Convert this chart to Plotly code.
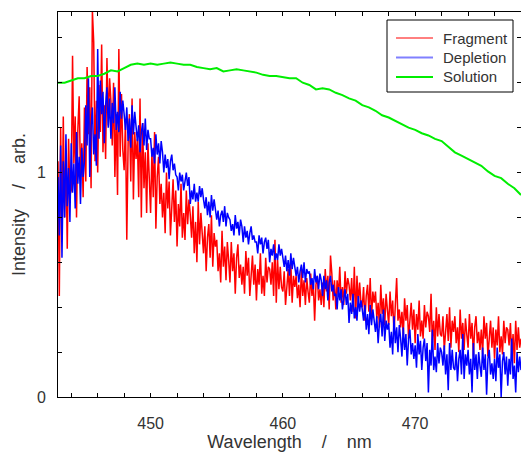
import plotly.graph_objects as go

# Wavelength grid (nm), 0.1 nm sampling for the two noisy spectra
wl_start = 443.0
wl_step = 0.1
n_pts = 351
wavelength = [round(wl_start + wl_step * i, 1) for i in range(n_pts)]

# Fragment spectrum (red), read per 0.1 nm
fragment = [
    1.05, 0.45, 1.20, 0.70, 1.25, 0.80, 1.10, 0.66, 1.15, 0.90,   # 443
    0.92, 1.52, 1.04, 1.25, 0.80, 1.19, 1.34, 0.98, 1.13, 0.89,   # 444
    1.29, 0.96, 1.47, 1.17, 1.38, 0.93, 1.72, 1.58, 1.05, 1.32,   # 445
    1.00, 1.39, 1.18, 1.57, 1.09, 1.30, 1.06, 1.51, 1.21, 1.42,   # 446
    1.32, 1.12, 1.40, 0.98, 1.26, 0.90, 1.55, 1.07, 1.35, 1.10,   # 447
    1.01, 1.23, 0.70, 1.13, 1.26, 0.96, 1.33, 0.88, 1.18, 1.06,   # 448
    1.15, 0.89, 1.33, 0.80, 1.22, 0.93, 1.09, 0.82, 1.13, 0.98,   # 449
    0.82, 1.09, 0.89, 1.18, 0.75, 0.98, 1.07, 0.86, 0.95, 0.80,   # 450
    0.91, 0.73, 1.00, 0.84, 0.96, 0.72, 0.89, 0.97, 0.78, 0.92,   # 451
    0.67, 0.86, 0.76, 0.95, 0.71, 0.82, 0.70, 0.92, 0.77, 0.88,   # 452
    0.81, 0.71, 0.85, 0.64, 0.78, 0.60, 0.87, 0.68, 0.82, 0.70,   # 453
    0.64, 0.76, 0.56, 0.71, 0.77, 0.62, 0.81, 0.58, 0.73, 0.67,   # 454
    0.70, 0.56, 0.64, 0.51, 0.74, 0.58, 0.67, 0.52, 0.69, 0.61,   # 455
    0.51, 0.69, 0.56, 0.64, 0.46, 0.62, 0.68, 0.53, 0.59, 0.50,   # 456
    0.58, 0.46, 0.65, 0.54, 0.62, 0.45, 0.57, 0.63, 0.50, 0.59,   # 457
    0.43, 0.57, 0.50, 0.64, 0.46, 0.54, 0.45, 0.62, 0.51, 0.58,   # 458
    0.57, 0.50, 0.60, 0.45, 0.70, 0.42, 0.61, 0.48, 0.58, 0.49,   # 459
    0.47, 0.56, 0.41, 0.52, 0.57, 0.45, 0.60, 0.42, 0.54, 0.49,   # 460
    0.54, 0.44, 0.50, 0.40, 0.57, 0.45, 0.52, 0.41, 0.53, 0.47,   # 461
    0.42, 0.55, 0.45, 0.51, 0.34, 0.50, 0.54, 0.43, 0.48, 0.41,   # 462
    0.51, 0.40, 0.57, 0.47, 0.54, 0.39, 0.63, 0.55, 0.43, 0.52,   # 463
    0.39, 0.52, 0.45, 0.58, 0.42, 0.49, 0.41, 0.56, 0.46, 0.53,   # 464
    0.50, 0.43, 0.53, 0.38, 0.58, 0.35, 0.54, 0.41, 0.51, 0.42,   # 465
    0.40, 0.49, 0.34, 0.45, 0.50, 0.38, 0.53, 0.35, 0.47, 0.42,   # 466
    0.47, 0.35, 0.42, 0.31, 0.50, 0.37, 0.44, 0.32, 0.46, 0.39,   # 467
    0.32, 0.47, 0.36, 0.43, 0.28, 0.41, 0.53, 0.34, 0.39, 0.31,   # 468
    0.38, 0.27, 0.44, 0.34, 0.41, 0.26, 0.37, 0.42, 0.30, 0.39,   # 469
    0.24, 0.37, 0.30, 0.43, 0.27, 0.34, 0.26, 0.41, 0.31, 0.38,   # 470
    0.36, 0.29, 0.46, 0.24, 0.34, 0.21, 0.40, 0.27, 0.37, 0.28,   # 471
    0.27, 0.36, 0.21, 0.32, 0.37, 0.25, 0.40, 0.22, 0.34, 0.29,   # 472
    0.36, 0.24, 0.31, 0.20, 0.39, 0.26, 0.33, 0.21, 0.35, 0.28,   # 473
    0.22, 0.37, 0.26, 0.33, 0.18, 0.31, 0.36, 0.24, 0.29, 0.21,   # 474
    0.30, 0.19, 0.36, 0.26, 0.33, 0.18, 0.29, 0.34, 0.22, 0.31,   # 475
    0.17, 0.30, 0.23, 0.36, 0.20, 0.27, 0.19, 0.34, 0.24, 0.31,   # 476
    0.30, 0.23, 0.33, 0.18, 0.28, 0.15, 0.34, 0.21, 0.31, 0.22,   # 477
    0.26,                                                         # 478
]

# Depletion spectrum (blue), read per 0.1 nm
depletion = [
    0.98, 0.72, 1.12, 0.62, 1.05, 0.80, 1.17, 0.85, 1.02, 0.78,   # 443
    1.13, 0.91, 1.04, 0.84, 1.18, 0.95, 1.07, 0.86, 1.11, 0.98,   # 444
    1.05, 1.30, 1.12, 1.42, 0.98, 1.20, 1.29, 1.08, 1.17, 1.03,   # 445
    1.55, 1.15, 1.41, 1.26, 1.36, 1.13, 1.30, 1.38, 1.20, 1.33,   # 446
    1.15, 1.31, 1.22, 1.38, 1.19, 1.27, 1.18, 1.36, 1.24, 1.32,   # 447
    1.26, 1.19, 1.29, 1.14, 1.24, 1.11, 1.30, 1.17, 1.27, 1.18,   # 448
    1.14, 1.21, 1.09, 1.18, 1.22, 1.12, 1.24, 1.10, 1.19, 1.15,   # 449
    1.15, 1.07, 1.11, 1.04, 1.17, 1.08, 1.13, 1.04, 1.14, 1.09,   # 450
    1.00, 1.08, 1.02, 1.06, 0.97, 1.05, 1.08, 1.01, 1.04, 0.99,   # 451
    0.98, 0.92, 1.00, 0.96, 0.99, 0.92, 0.97, 1.00, 0.94, 0.98,   # 452
    0.86, 0.92, 0.88, 0.95, 0.87, 0.91, 0.87, 0.94, 0.89, 0.93,   # 453
    0.88, 0.84, 0.89, 0.81, 0.87, 0.80, 0.90, 0.83, 0.88, 0.84,   # 454
    0.79, 0.83, 0.76, 0.81, 0.83, 0.78, 0.85, 0.76, 0.82, 0.80,   # 455
    0.79, 0.74, 0.77, 0.72, 0.81, 0.75, 0.78, 0.72, 0.79, 0.76,   # 456
    0.69, 0.76, 0.71, 0.74, 0.68, 0.73, 0.76, 0.70, 0.72, 0.69,   # 457
    0.69, 0.64, 0.72, 0.68, 0.71, 0.64, 0.69, 0.71, 0.66, 0.70,   # 458
    0.60, 0.66, 0.63, 0.68, 0.61, 0.64, 0.61, 0.68, 0.63, 0.66,   # 459
    0.62, 0.58, 0.63, 0.56, 0.61, 0.54, 0.64, 0.57, 0.62, 0.57,   # 460
    0.54, 0.58, 0.51, 0.56, 0.59, 0.53, 0.60, 0.51, 0.57, 0.55,   # 461
    0.56, 0.50, 0.53, 0.48, 0.57, 0.51, 0.54, 0.48, 0.55, 0.52,   # 462
    0.45, 0.54, 0.48, 0.52, 0.43, 0.51, 0.54, 0.47, 0.50, 0.45,   # 463
    0.46, 0.39, 0.49, 0.43, 0.48, 0.39, 0.45, 0.48, 0.41, 0.46,   # 464
    0.33, 0.42, 0.37, 0.46, 0.35, 0.40, 0.34, 0.45, 0.38, 0.43,   # 465
    0.39, 0.34, 0.41, 0.30, 0.37, 0.28, 0.41, 0.32, 0.39, 0.33,   # 466
    0.29, 0.36, 0.24, 0.33, 0.37, 0.27, 0.39, 0.25, 0.34, 0.30,   # 467
    0.33, 0.22, 0.29, 0.19, 0.36, 0.24, 0.31, 0.20, 0.32, 0.26,   # 468
    0.18, 0.31, 0.21, 0.28, 0.14, 0.26, 0.30, 0.19, 0.24, 0.17,   # 469
    0.23, 0.13, 0.28, 0.19, 0.25, 0.12, 0.22, 0.26, 0.16, 0.24,   # 470
    0.02, 0.21, 0.14, 0.30, 0.12, 0.18, 0.11, 0.24, 0.15, 0.22,   # 471
    0.20, 0.14, 0.23, 0.10, 0.19, 0.03, 0.24, 0.12, 0.21, 0.13,   # 472
    0.12, 0.20, 0.07, 0.17, 0.21, 0.10, 0.28, 0.08, 0.19, 0.14,   # 473
    0.21, 0.10, 0.17, 0.02, 0.24, 0.12, 0.19, 0.08, 0.20, 0.14,   # 474
    0.09, 0.22, 0.12, 0.19, 0.01, 0.17, 0.21, 0.10, 0.15, 0.08,   # 475
    0.17, 0.07, 0.22, 0.13, 0.19, 0.00, 0.16, 0.20, 0.10, 0.18,   # 476
    0.05, 0.17, 0.10, 0.26, 0.08, 0.14, 0.02, 0.20, 0.11, 0.18,   # 477
    0.12,                                                         # 478
]

# Solution spectrum (green), read every 0.5 nm
solution_wl = [round(443.0 + 0.5 * i, 1) for i in range(71)]
solution = [
    1.40, 1.40, 1.41, 1.42, 1.42, 1.43, 1.43, 1.44, 1.455, 1.45,
    1.465, 1.48, 1.485, 1.48, 1.485, 1.48, 1.485, 1.49, 1.485, 1.48,
    1.48, 1.47, 1.465, 1.46, 1.465, 1.45, 1.455, 1.46, 1.455, 1.45,
    1.445, 1.435, 1.43, 1.43, 1.425, 1.42, 1.42, 1.40, 1.39, 1.37,
    1.375, 1.37, 1.355, 1.345, 1.33, 1.32, 1.30, 1.29, 1.275, 1.255,
    1.245, 1.23, 1.215, 1.20, 1.19, 1.175, 1.165, 1.15, 1.14, 1.115,
    1.09, 1.075, 1.06, 1.045, 1.03, 1.005, 0.985, 0.975, 0.95, 0.93,
    0.90,
]

series_names = ["Fragment", "Depletion", "Solution"]
legend_colors = ["#ff0000", "#8080ff", "#00ee00"]
legend_widths = [1, 2, 2]
x_ticks = [450, 460, 470]
y_ticks = [0, 1]

FONT = "Liberation Sans, Arial, sans-serif"
NB = "\u00a0"

W, H = 521, 453
ML, MR, MT, MB = 58, 0, 12, 56
PW, PH = W - ML - MR, H - MT - MB


def px_x(p):  # pixel -> paper x
    return (p - ML) / PW


def px_y(p):  # pixel -> paper y
    return (H - MB - p) / PH


fig = go.Figure()
fig.add_trace(go.Scatter(x=wavelength, y=fragment, mode="lines", name=series_names[0],
                         line=dict(color="#ff0000", width=1.5), showlegend=False))
fig.add_trace(go.Scatter(x=wavelength, y=depletion, mode="lines", name=series_names[1],
                         line=dict(color="#0000ff", width=1.5), showlegend=False))
fig.add_trace(go.Scatter(x=solution_wl, y=solution, mode="lines", name=series_names[2],
                         line=dict(color="#00ee00", width=2), showlegend=False))

# Legend drawn as a framed box with line samples and labels
shapes = [dict(type="rect", xref="paper", yref="paper",
               x0=px_x(387), x1=px_x(513), y0=px_y(92), y1=px_y(20),
               line=dict(color="black", width=1), fillcolor="white", layer="above")]
annotations = []
for i, (name, col, lw) in enumerate(zip(series_names, legend_colors, legend_widths)):
    yc = 38 + 19.5 * i
    shapes.append(dict(type="line", xref="paper", yref="paper",
                       x0=px_x(396), x1=px_x(433), y0=px_y(yc), y1=px_y(yc),
                       line=dict(color=col, width=lw), layer="above"))
    annotations.append(dict(xref="paper", yref="paper", x=px_x(441), y=px_y(yc),
                            xanchor="left", yanchor="middle", showarrow=False,
                            text=name, font=dict(family=FONT, size=15, color="#333333")))

axis_common = dict(
    showline=True, linecolor="black", linewidth=1, mirror="ticks",
    ticks="inside", ticklen=4, tickwidth=1, tickcolor="black",
    showgrid=False, zeroline=False, automargin=False,
    tickfont=dict(family=FONT, size=16, color="#333333"),
)

fig.update_layout(
    width=W, height=H,
    margin=dict(l=ML, r=MR, t=MT, b=MB),
    paper_bgcolor="white", plot_bgcolor="white",
    font=dict(family=FONT, color="#333333"),
    showlegend=False,
    shapes=shapes,
    annotations=annotations,
    xaxis=dict(
        range=[443, 478], tickvals=x_ticks,
        minor=dict(dtick=2, ticks="inside", ticklen=4, tickcolor="black"),
        ticklabelstandoff=12,
        title=dict(text="Wavelength" + NB * 4 + "/" + NB * 4 + "nm",
                   font=dict(family=FONT, size=18, color="#333333"), standoff=4),
        **axis_common,
    ),
    yaxis=dict(
        range=[0, 1.715], tickvals=y_ticks,
        minor=dict(dtick=0.2, ticks="inside", ticklen=4, tickcolor="black"),
        ticklabelstandoff=8,
        title=dict(text="Intensity" + NB * 4 + "/" + NB * 4 + "arb.",
                   font=dict(family=FONT, size=18, color="#333333"), standoff=6),
        **axis_common,
    ),
)

fig.write_html(
    "out.html",
    config={"displayModeBar": False},
    post_script="document.body.style.margin='0';document.body.style.overflow='hidden';",
)
